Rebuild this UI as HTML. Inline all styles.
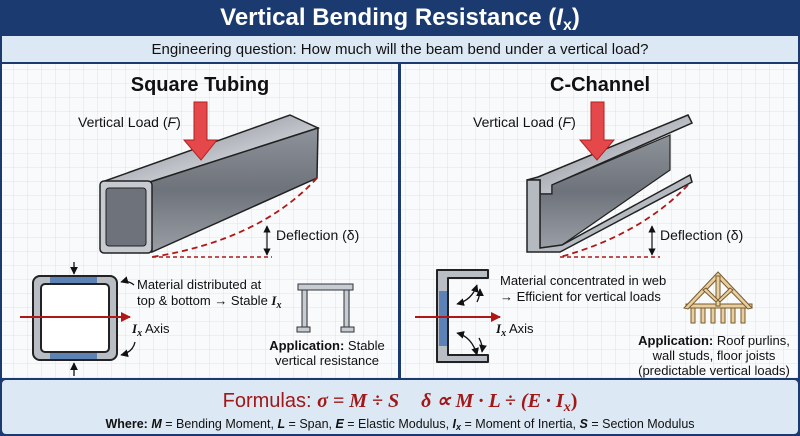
<!DOCTYPE html>
<html><head><meta charset="utf-8"><style>
html,body{margin:0;padding:0;background:#fff}
svg{display:block}
text{font-family:"Liberation Sans","DejaVu Sans",sans-serif}
</style></head><body>
<svg width="800" height="436" viewBox="0 0 800 436" xmlns="http://www.w3.org/2000/svg">
<defs>
<pattern id="g" width="14" height="14" patternUnits="userSpaceOnUse">
<rect width="14" height="14" fill="#f9fafc"/>
<path d="M14 0V14H0" fill="none" stroke="#d8dde6" stroke-width="0.8"/>
</pattern>
<linearGradient id="steel" x1="0" y1="0" x2="1" y2="1">
<stop offset="0" stop-color="#e4e6ea"/><stop offset="0.4" stop-color="#a9adb4"/><stop offset="0.7" stop-color="#d0d3d8"/><stop offset="1" stop-color="#7f848c"/></linearGradient>
<linearGradient id="steel2" x1="0" y1="0" x2="0" y2="1">
<stop offset="0" stop-color="#8e939a"/><stop offset="0.5" stop-color="#6e737b"/><stop offset="1" stop-color="#9a9ea5"/></linearGradient>
<marker id="ah" viewBox="0 0 10 10" refX="9" refY="5" markerWidth="6" markerHeight="6" orient="auto-start-reverse"><path d="M0 0L10 5L0 10z" fill="#111"/></marker>
<marker id="rh" viewBox="0 0 10 10" refX="9" refY="5" markerWidth="5" markerHeight="5" orient="auto"><path d="M0 0L10 5L0 10z" fill="#b01818"/></marker>
</defs>
<rect width="800" height="436" fill="#1b3a70"/>
<rect x="2" y="36" width="796" height="26" fill="#dce8f4"/>
<rect x="2" y="64" width="796" height="314" fill="url(#g)"/>
<rect x="398" y="64" width="3" height="314" fill="#1b3a70"/>
<rect x="2" y="380" width="796" height="54" rx="4" fill="#dce8f4"/>
<text x="400" y="25" font-size="24" font-weight="bold" fill="#fff" text-anchor="middle">Vertical Bending Resistance (<tspan font-style="italic">I</tspan><tspan font-size="16" dy="5">x</tspan><tspan dy="-5">)</tspan></text>
<text x="400" y="54" font-size="15" fill="#111" text-anchor="middle">Engineering question: How much will the beam bend under a vertical load?</text>
<text x="200" y="91" font-size="20" font-weight="bold" fill="#111" text-anchor="middle">Square Tubing</text>
<text x="600" y="91" font-size="20" font-weight="bold" fill="#111" text-anchor="middle">C-Channel</text>

<!-- square tube -->
<polygon points="102,182 290,115 318,128 150,182" fill="url(#steel)" stroke="#222" stroke-width="1.5"/>
<polygon points="150,182 318,128 317,178 152,252" fill="url(#steel2)" stroke="#222" stroke-width="1.5"/>
<rect x="100" y="181" width="52" height="72" rx="4" fill="#c7cad0" stroke="#222" stroke-width="1.5"/>
<rect x="106" y="188" width="40" height="58" rx="3" fill="#6e737b" stroke="#222" stroke-width="1"/>
<path d="M317 178 Q260 240 152 257" fill="none" stroke="#b01818" stroke-width="1.8" stroke-dasharray="6 4"/>
<line x1="152" y1="257" x2="272" y2="257" stroke="#b01818" stroke-width="1.5" stroke-dasharray="4 3"/>
<line x1="267" y1="226" x2="267" y2="255" stroke="#111" stroke-width="1.2" marker-start="url(#ah)" marker-end="url(#ah)"/>
<text x="276" y="240" font-size="14" fill="#111">Deflection (δ)</text>
<polygon points="194,102 207,102 207,140 217,140 201,160 184,140 194,140" fill="#e5484a" stroke="#b02020" stroke-width="1"/>
<text x="78" y="127" font-size="14" fill="#111">Vertical Load (<tspan font-style="italic">F</tspan>)</text>

<!-- square section -->
<rect x="33" y="276" width="84" height="84" rx="7" fill="#b9bdc4" stroke="#222" stroke-width="2"/>
<rect x="41" y="284" width="68" height="68" rx="4" fill="#fff" stroke="#222" stroke-width="2"/>
<rect x="50" y="277" width="47" height="6" fill="#5d82b5"/>
<rect x="50" y="353" width="47" height="6" fill="#5d82b5"/>
<line x1="20" y1="317" x2="130" y2="317" stroke="#b01818" stroke-width="2" marker-end="url(#rh)"/>
<line x1="74" y1="262" x2="74" y2="274" stroke="#111" stroke-width="1.3" marker-end="url(#ah)"/>
<line x1="74" y1="376" x2="74" y2="363" stroke="#111" stroke-width="1.3" marker-end="url(#ah)"/>
<path d="M134 285 Q128 280 121 282" fill="none" stroke="#111" stroke-width="1.3" marker-end="url(#ah)"/>
<path d="M135 342 Q133 352 121 355" fill="none" stroke="#111" stroke-width="1.3" marker-end="url(#ah)"/>
<text x="137" y="289" font-size="13" fill="#111">Material distributed at</text>
<text x="137" y="305" font-size="13" fill="#111">top &amp; bottom → Stable <tspan font-family="Liberation Serif" font-style="italic" font-weight="bold">I<tspan font-size="10" dy="3">x</tspan></tspan></text>
<text x="132" y="333" font-size="13" fill="#111"><tspan font-family="Liberation Serif" font-style="italic" font-weight="bold">I<tspan font-size="10" dy="3">x</tspan></tspan><tspan dy="-3"> Axis</tspan></text>
<g fill="#c5ccd4" stroke="#333" stroke-width="1">
<rect x="298" y="284" width="55" height="6"/><rect x="302" y="290" width="5" height="38"/><rect x="344" y="290" width="5" height="38"/>
<rect x="297" y="327" width="13" height="5"/><rect x="341" y="327" width="13" height="5"/></g>
<text x="327" y="350" font-size="13" fill="#111" text-anchor="middle"><tspan font-weight="bold">Application:</tspan> Stable</text>
<text x="327" y="365" font-size="13" fill="#111" text-anchor="middle">vertical resistance</text>

<!-- C channel -->
<polygon points="527,180 538,177 688,115 692,123 552,185 552,194 540,194 540,180" fill="url(#steel)" stroke="#222" stroke-width="1.5"/>
<polygon points="540,194 552,194 552,185 670,135 670,170 562,245 540,248" fill="url(#steel2)" stroke="#222" stroke-width="1.2"/>
<polygon points="527,180 540,180 540,248 562,245 690,175 692,182 560,252 527,252" fill="#b5b9c0" stroke="#222" stroke-width="1.5"/>
<path d="M688 185 Q640 235 560 257" fill="none" stroke="#b01818" stroke-width="1.8" stroke-dasharray="6 4"/>
<line x1="560" y1="257" x2="660" y2="257" stroke="#b01818" stroke-width="1.5" stroke-dasharray="4 3"/>
<line x1="652" y1="226" x2="652" y2="255" stroke="#111" stroke-width="1.2" marker-start="url(#ah)" marker-end="url(#ah)"/>
<text x="660" y="240" font-size="14" fill="#111">Deflection (δ)</text>
<polygon points="591,102 604,102 604,140 614,140 597,160 580,140 591,140" fill="#e5484a" stroke="#b02020" stroke-width="1"/>
<text x="473" y="127" font-size="14" fill="#111">Vertical Load (<tspan font-style="italic">F</tspan>)</text>

<!-- C section -->
<path d="M437 270 H488 V278 H448 V355 H488 V362 H437 Z" fill="#b9bdc4" stroke="#222" stroke-width="2" stroke-linejoin="round"/>
<rect x="439" y="291" width="8" height="55" fill="#5d82b5"/>
<line x1="415" y1="317" x2="500" y2="317" stroke="#b01818" stroke-width="2" marker-end="url(#rh)"/>
<path d="M477 285 Q472 300 457 304" fill="none" stroke="#111" stroke-width="1.3" marker-start="url(#ah)" marker-end="url(#ah)"/>
<path d="M480 289 Q480 296 477 302" fill="none" stroke="#111" stroke-width="1.3" marker-start="url(#ah)"/>
<path d="M457 333 Q472 337 477 355" fill="none" stroke="#111" stroke-width="1.3" marker-start="url(#ah)" marker-end="url(#ah)"/>
<path d="M479 338 Q483 345 482 352" fill="none" stroke="#111" stroke-width="1.3" marker-end="url(#ah)"/>
<text x="500" y="285" font-size="13" fill="#111">Material concentrated in web</text>
<text x="500" y="301" font-size="13" fill="#111">→ Efficient for vertical loads</text>
<text x="496" y="333" font-size="13" fill="#111"><tspan font-family="Liberation Serif" font-style="italic" font-weight="bold">I<tspan font-size="10" dy="3">x</tspan></tspan><tspan dy="-3"> Axis</tspan></text>
<g stroke="#7a5a2e" stroke-width="1" fill="#e8cf9e">
<g><rect x="691" y="307" width="4" height="16"/><rect x="701" y="307" width="4" height="16"/><rect x="711" y="307" width="4" height="16"/><rect x="721" y="307" width="4" height="16"/><rect x="731" y="307" width="4" height="16"/><rect x="741" y="307" width="4" height="16"/></g>
<rect x="686" y="304" width="66" height="4"/>
<polygon points="684,308 718,272 752,308 748,309 718,278 688,309"/>
<rect x="716" y="276" width="4" height="30"/>
<polygon points="703,290 706,288 718,300 716,302"/>
<polygon points="733,290 730,288 718,300 720,302"/>
</g>
<text x="714" y="345" font-size="13" fill="#111" text-anchor="middle"><tspan font-weight="bold">Application:</tspan> Roof purlins,</text>
<text x="714" y="360" font-size="13" fill="#111" text-anchor="middle">wall studs, floor joists</text>
<text x="714" y="375" font-size="13" fill="#111" text-anchor="middle">(predictable vertical loads)</text>

<!-- formulas -->
<text x="400" y="407" font-size="20" fill="#a01818" text-anchor="middle">Formulas: <tspan font-family="Liberation Serif" font-style="italic" font-weight="bold">σ = M ÷ S</tspan><tspan font-family="Liberation Serif" font-style="italic" font-weight="bold" dx="22">δ ∝ M · L ÷ (E · I</tspan><tspan font-family="Liberation Serif" font-style="italic" font-weight="bold" font-size="14" dy="4">x</tspan><tspan font-family="Liberation Serif" font-weight="bold" dy="-4">)</tspan></text>
<text x="400" y="428" font-size="12.5" fill="#111" text-anchor="middle"><tspan font-weight="bold">Where: </tspan><tspan font-weight="bold" font-style="italic">M</tspan> = Bending Moment, <tspan font-weight="bold" font-style="italic">L</tspan> = Span, <tspan font-weight="bold" font-style="italic">E</tspan> = Elastic Modulus, <tspan font-weight="bold" font-style="italic">I<tspan font-size="9" dy="2">x</tspan></tspan><tspan dy="-2"> = Moment of Inertia, </tspan><tspan font-weight="bold" font-style="italic">S</tspan> = Section Modulus</text>
</svg>
</body></html>
